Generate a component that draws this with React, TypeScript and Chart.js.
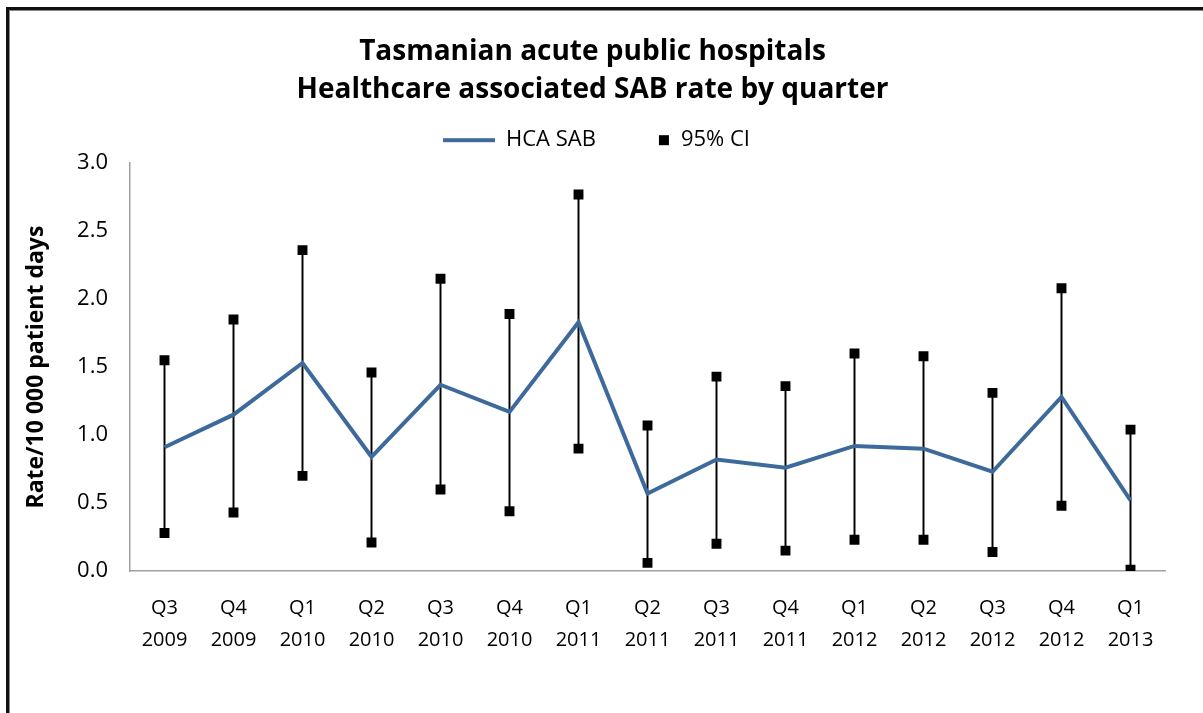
import React, { useEffect, useRef } from "react";
import { Chart, registerables } from "chart.js";

Chart.register(...registerables);

const quarters = ["Q3", "Q4", "Q1", "Q2", "Q3", "Q4", "Q1", "Q2", "Q3", "Q4", "Q1", "Q2", "Q3", "Q4", "Q1"];
const years = ["2009", "2009", "2010", "2010", "2010", "2010", "2011", "2011", "2011", "2011", "2012", "2012", "2012", "2012", "2013"];
const hcaSab = [0.91, 1.15, 1.53, 0.84, 1.37, 1.17, 1.83, 0.57, 0.82, 0.76, 0.92, 0.90, 0.73, 1.28, 0.52];
const ciUpper = [1.55, 1.85, 2.36, 1.46, 2.15, 1.89, 2.77, 1.07, 1.43, 1.36, 1.60, 1.58, 1.31, 2.08, 1.04];
const ciLower = [0.28, 0.43, 0.70, 0.21, 0.60, 0.44, 0.90, 0.06, 0.20, 0.15, 0.23, 0.23, 0.14, 0.48, 0.01];
const yTicks = [0, 0.5, 1.0, 1.5, 2.0, 2.5, 3.0];

const BLUE = "#3e6a9b";
const FONT = "'Open Sans', 'DejaVu Sans', sans-serif";

function makeLineIcon(): HTMLCanvasElement {
  const c = document.createElement("canvas");
  c.width = 60;
  c.height = 6;
  const ctx = c.getContext("2d")!;
  ctx.fillStyle = BLUE;
  ctx.fillRect(8, 1, 52, 4);
  return c;
}

function makeSquareIcon(): HTMLCanvasElement {
  const c = document.createElement("canvas");
  c.width = 60;
  c.height = 12;
  const ctx = c.getContext("2d")!;
  ctx.fillStyle = "#000";
  ctx.fillRect(49, 1, 10, 10);
  return c;
}

export default function App() {
  const ref = useRef<HTMLCanvasElement | null>(null);

  useEffect(() => {
    if (!ref.current) return;
    const labels = quarters.map((q, i) => [q, years[i]]);
    const ranges = ciLower.map((lo, i) => [lo, ciUpper[i]]);
    const lineIcon = makeLineIcon();
    const squareIcon = makeSquareIcon();

    const chart = new Chart(ref.current, {
      type: "line",
      data: {
        labels,
        datasets: [
          {
            type: "line",
            label: "HCA SAB",
            data: hcaSab,
            xAxisID: "x",
            yAxisID: "y",
            borderColor: BLUE,
            backgroundColor: BLUE,
            borderWidth: 4,
            pointRadius: 0,
            tension: 0,
            order: 1,
          },
          {
            type: "bar",
            label: "CI range",
            data: ranges as any,
            xAxisID: "x",
            yAxisID: "y",
            backgroundColor: "#000",
            borderWidth: 0,
            barThickness: 1.3,
            order: 2,
          } as any,
          {
            type: "line",
            label: "95% CI",
            data: ciUpper,
            xAxisID: "x",
            yAxisID: "y",
            showLine: false,
            pointStyle: "rect",
            pointRadius: 7,
            pointBackgroundColor: "#000",
            pointBorderColor: "#000",
            pointBorderWidth: 0,
            order: 0,
          },
          {
            type: "line",
            label: "95% CI lower",
            data: ciLower,
            xAxisID: "x",
            yAxisID: "y",
            showLine: false,
            pointStyle: "rect",
            pointRadius: 7,
            pointBackgroundColor: "#000",
            pointBorderColor: "#000",
            pointBorderWidth: 0,
            order: 0,
          },
        ],
      },
      options: {
        responsive: false,
        animation: false,
        layout: { padding: { left: 20, right: 38, top: 0, bottom: 42 } },
        plugins: {
          tooltip: { enabled: false },
          title: {
            display: true,
            text: ["Tasmanian acute public hospitals", "Healthcare associated SAB rate by quarter"],
            color: "#000",
            font: { family: FONT, size: 28, weight: "bold", lineHeight: 1.36 },
            padding: { top: 33, bottom: 6 },
          },
          legend: {
            display: true,
            labels: {
              color: "#000",
              font: { family: FONT, size: 22 },
              usePointStyle: true,
              pointStyleWidth: 60,
              padding: 14,
              generateLabels: () => [
                {
                  text: "HCA SAB",
                  pointStyle: lineIcon as any,
                  fillStyle: BLUE,
                  strokeStyle: BLUE,
                  lineWidth: 0,
                  hidden: false,
                  datasetIndex: 0,
                  fontColor: "#000",
                },
                {
                  text: "95% CI",
                  pointStyle: squareIcon as any,
                  fillStyle: "#000",
                  strokeStyle: "#000",
                  lineWidth: 0,
                  hidden: false,
                  datasetIndex: 2,
                  fontColor: "#000",
                },
              ],
            },
          },
        },
        scales: {
          x: {
            offset: true,
            grid: { display: false, drawTicks: false },
            border: { color: "#a0a0a0", width: 1.5 },
            ticks: {
              color: "#000",
              font: { family: FONT, size: 20, lineHeight: 1.6 },
              padding: 21,
              maxRotation: 0,
              autoSkip: false,
            },
            afterFit: (scale: any) => {
              scale.height = 100;
            },
          },
          xTop: {
            type: "category",
            position: "top",
            display: true,
            grid: { display: false, drawTicks: false },
            border: { display: false },
            ticks: { display: false },
            afterFit: (scale: any) => {
              scale.height = 2;
            },
          },
          y: {
            min: 0,
            max: 3,
            afterBuildTicks: (scale: any) => {
              scale.ticks = yTicks.map((v) => ({ value: v }));
            },
            afterFit: (scale: any) => {
              scale.width = 110;
            },
            grid: { display: false, drawTicks: false },
            border: { color: "#a0a0a0", width: 1.5 },
            ticks: {
              color: "#000",
              font: { family: FONT, size: 22 },
              padding: 22,
              callback: (v: any) => Number(v).toFixed(1),
            },
            title: {
              display: true,
              text: "Rate/10 000 patient days",
              color: "#000",
              font: { family: FONT, size: 23, weight: "bold" },
              padding: { top: 3, bottom: 0 },
            },
          },
        },
      },
    });
    return () => chart.destroy();
  }, []);

  return (
    <div style={{ position: "absolute", left: 0, top: 0, width: 1203, height: 713, overflow: "hidden", background: "#fff" }}>
      <div
        style={{
          position: "absolute",
          left: 6,
          top: 7,
          width: 1300,
          height: 800,
          borderLeft: "3px solid #111",
          borderTop: "3px solid #111",
          boxShadow: "1px 1px 0 #888 inset",
        }}
      />
      <canvas ref={ref} width={1203} height={713} style={{ position: "absolute", left: 0, top: 0 }} />
    </div>
  );
}
